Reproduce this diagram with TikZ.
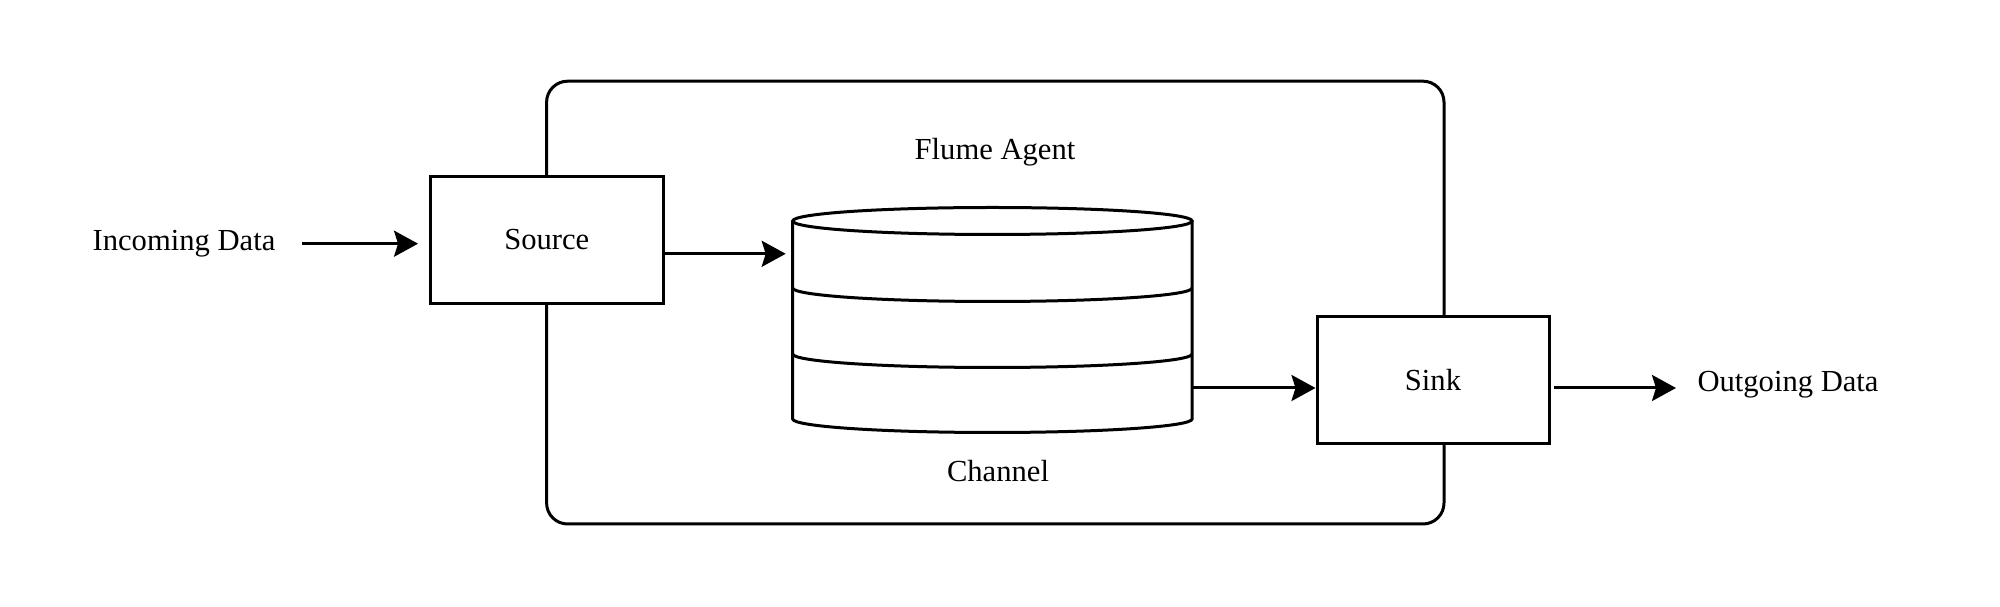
\documentclass[tikz,border=0pt]{standalone}
\usepackage{fontspec}
\setmainfont{Liberation Serif}
\usetikzlibrary{arrows.meta}
\tikzset{
  line/.style={line width=3pt, draw=black},
  box/.style={line, fill=white, rectangle, inner sep=0pt},
  arr/.style={line, -{Stealth[length=24pt, width=26pt, inset=4pt]}},
  lbl/.style={inner sep=0pt, font=\fontsize{30.6}{36}\selectfont}
}
\begin{document}
\begin{tikzpicture}[x=1pt, y=1pt]
\useasboundingbox (0,0) rectangle (2000,607);
% container
\draw[line, rounded corners=21pt] (546.6,83) rectangle (1444,525.8);
\node[lbl, anchor=base] (agent) at (995,447) {Flume Agent};
% channel cylinder
\draw[line, fill=white] (792.7,386) -- (792.7,188) arc[start angle=180, end angle=360, x radius=199.7, y radius=13.5] -- (1192.1,386);
\draw[line, fill=white] (992.4,386) ellipse [x radius=199.7, y radius=13.5];
\draw[line] (792.7,319) arc[start angle=180, end angle=360, x radius=199.7, y radius=13.5];
\draw[line] (792.7,253) arc[start angle=180, end angle=360, x radius=199.7, y radius=13.5];
\node[lbl, anchor=base] (channel) at (998,125.4) {Channel};
\coordinate (chIn) at (792.7,353.2);
\coordinate (chOut) at (1192.1,219);
% boxes
\node[box, minimum width=232.5pt, minimum height=127.3pt, lbl] (src) at (546.8,367) {Source};
\node[box, minimum width=232pt, minimum height=127.3pt, lbl] (sink) at (1433,227) {Sink};
% texts
\node[lbl, anchor=base] (in) at (184,356.3) {Incoming Data};
\node[lbl, anchor=base] (out) at (1788,215.5) {Outgoing Data};
\coordinate (inStart) at (302,363.3);
\coordinate (outEnd) at (1676,219);
% arrows
\draw[arr, shorten >=11pt] (inStart) -- (src.west |- inStart);
\draw[arr, shorten >=7pt] (src.east |- chIn) -- (chIn);
\draw[arr] (chOut) -- (sink.west |- chOut);
\draw[arr, shorten <=3pt] (sink.east |- outEnd) -- (outEnd);
\end{tikzpicture}
\end{document}
